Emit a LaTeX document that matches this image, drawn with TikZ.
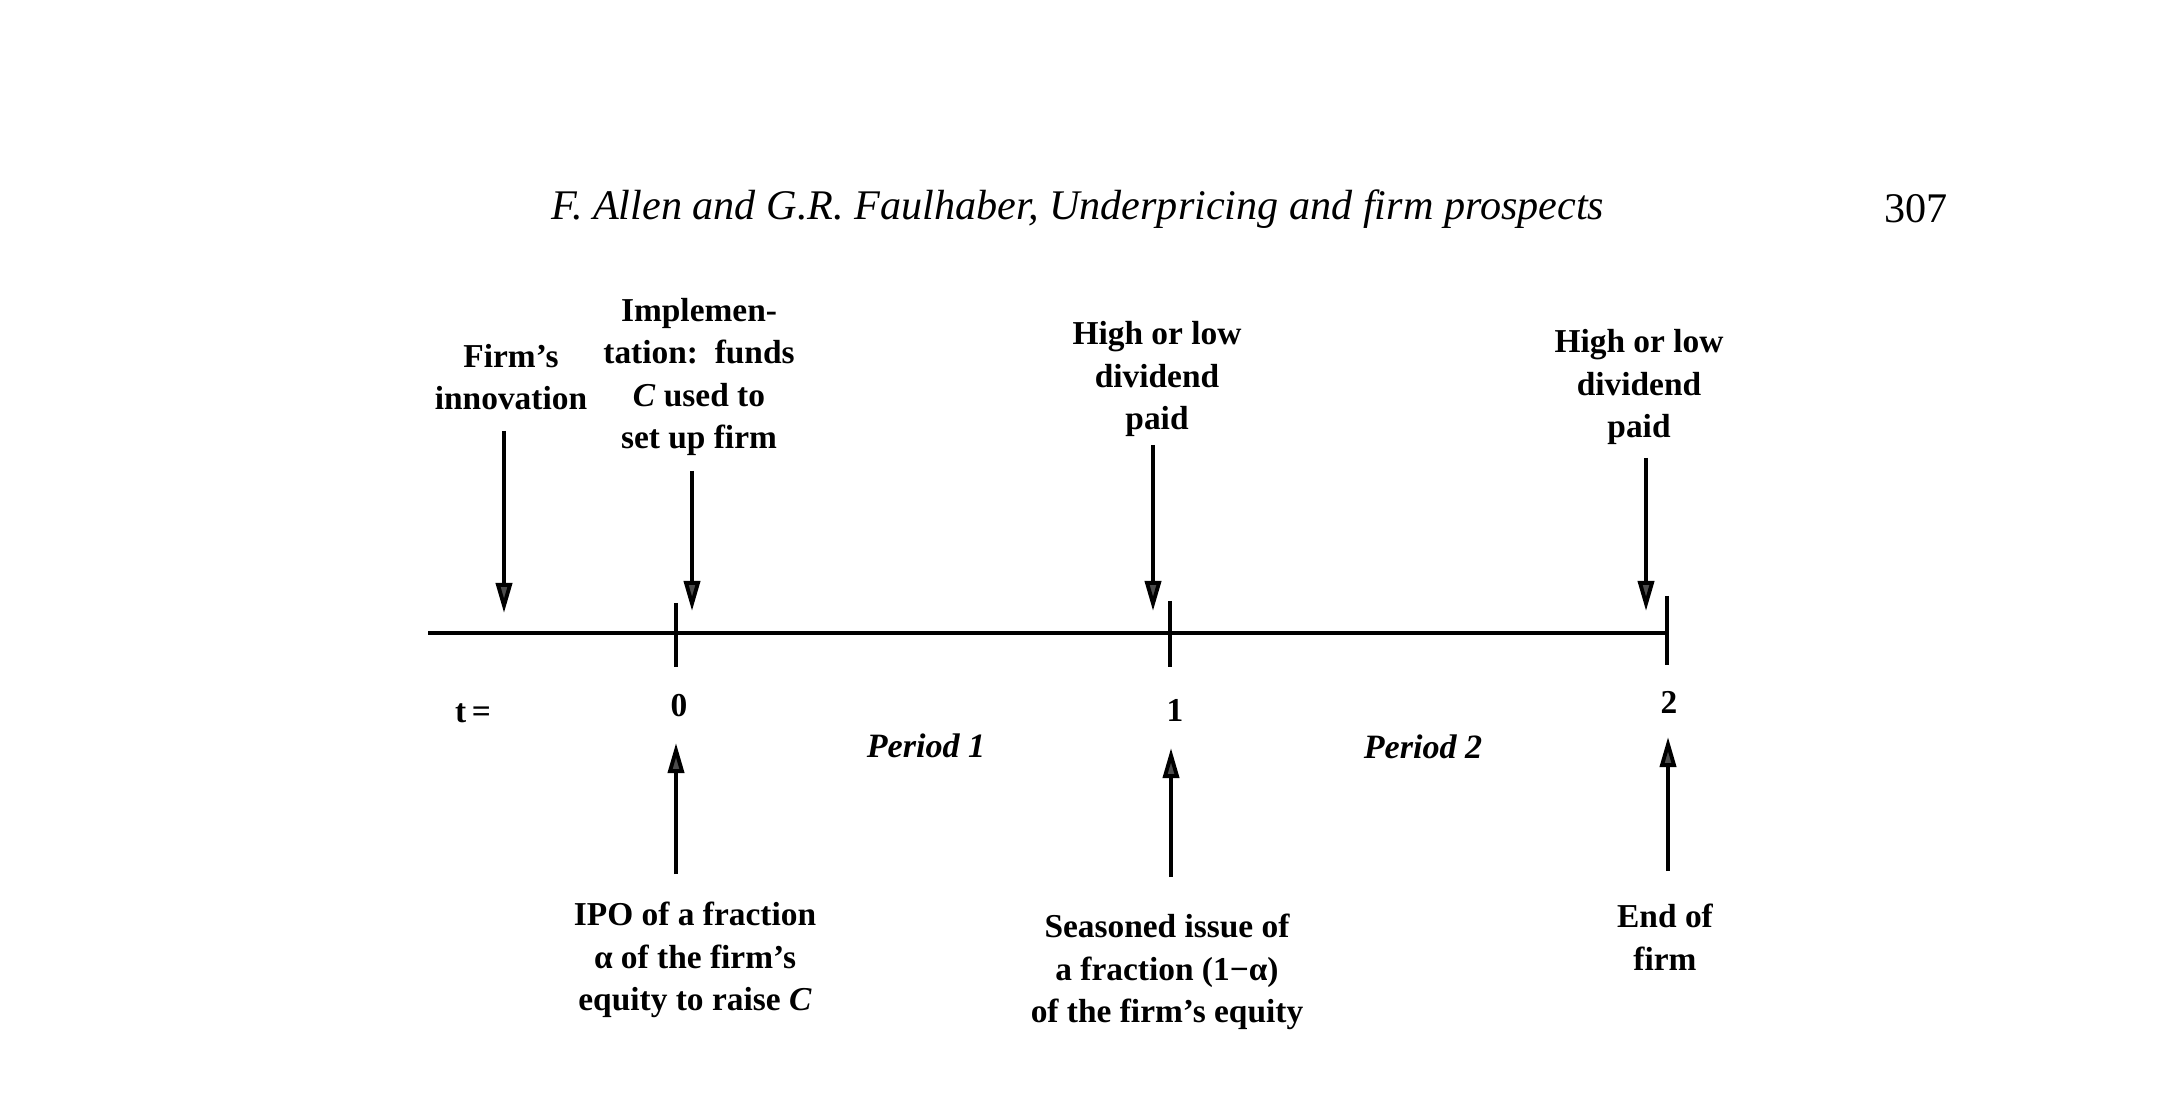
\documentclass[tikz,border=0pt]{standalone}
\usepackage{fontspec}
\setmainfont{Liberation Serif}
\usetikzlibrary{arrows.meta}
\begin{document}
\begin{tikzpicture}[x=0.01cm,y=-0.01cm,
  lbl/.style={font=\fontsize{9.5}{12.1}\selectfont\bfseries, align=center, inner sep=0pt},
  num/.style={font=\fontsize{9.5}{12}\selectfont\bfseries, inner sep=0pt},
  per/.style={font=\fontsize{9.7}{12}\selectfont\bfseries\itshape, inner sep=0pt},
  arr/.style={line width=1.1pt, -{Triangle[length=3mm,width=1.6mm,fill=black!70]}},
  tickmark/.style={line width=1.3pt},
  axis/.style={line width=1.3pt},
]
\useasboundingbox (0,0) rectangle (2158,1095);

% header
\node[font=\fontsize{12}{14}\selectfont\itshape, inner sep=0pt] (hdr) at (1078,209)
  {F. Allen and G.R. Faulhaber, Underpricing and firm prospects};
\node[font=\fontsize{12}{14}\selectfont, inner sep=0pt] (pg) at (1916,209) {307};

% timeline
\coordinate (L) at (428,633);
\coordinate (R) at (1668,633);
\draw[axis] (L) -- (R);
\coordinate (k0a) at (676,603); \coordinate (k0b) at (676,667);
\coordinate (k1a) at (1170,601); \coordinate (k1b) at (1170,667);
\coordinate (k2a) at (1667,596); \coordinate (k2b) at (1667,665);
\draw[tickmark] (k0a) -- (k0b);
\draw[tickmark] (k1a) -- (k1b);
\draw[tickmark] (k2a) -- (k2b);

% time labels
\node[num] (teq) at (473,713) {t\,=};
\node[num] (t0) at (679,706) {0};
\node[num] (t1) at (1175,710) {1};
\node[num] (t2) at (1669,702) {2};
\node[per] (p1) at (926,746) {Period 1};
\node[per] (p2) at (1423,747) {Period 2};

% top labels
\node[lbl] (innov) at (511,377) {Firm’s\\innovation};
\node[lbl] (impl) at (699,377) {Implemen-\\tation:\ \ funds\\\textit{C} used to\\set up firm};
\node[lbl] (div1) at (1157,379) {High or low\\dividend\\paid};
\node[lbl] (div2) at (1639,387) {High or low\\dividend\\paid};

% top arrows
\coordinate (a1s) at (504,431); \coordinate (a1e) at (504,613);
\coordinate (a2s) at (692,471); \coordinate (a2e) at (692,611);
\coordinate (a3s) at (1153,445); \coordinate (a3e) at (1153,611);
\coordinate (a4s) at (1646,458); \coordinate (a4e) at (1646,611);
\draw[arr] (a1s) -- (a1e);
\draw[arr] (a2s) -- (a2e);
\draw[arr] (a3s) -- (a3e);
\draw[arr] (a4s) -- (a4e);

% bottom arrows
\coordinate (b1s) at (676,874); \coordinate (b1e) at (676,743);
\coordinate (b2s) at (1171,877); \coordinate (b2e) at (1171,748);
\coordinate (b3s) at (1668,871); \coordinate (b3e) at (1668,737);
\draw[arr] (b1s) -- (b1e);
\draw[arr] (b2s) -- (b2e);
\draw[arr] (b3s) -- (b3e);

% bottom labels
\node[lbl] (ipo) at (695,960) {IPO of a fraction\\α of the firm’s\\equity to raise \textit{C}};
\node[lbl] (seas) at (1167,972) {Seasoned issue of\\a fraction (1−α)\\of the firm’s equity};
\node[lbl] (endf) at (1665,937) {End of\\firm};
\end{tikzpicture}
\end{document}
